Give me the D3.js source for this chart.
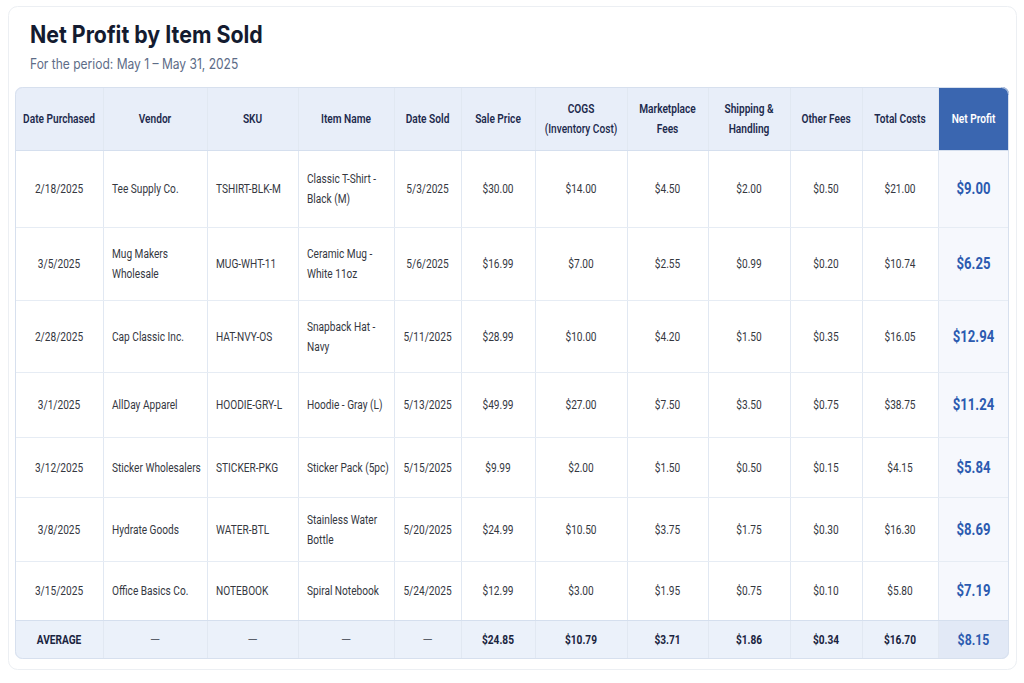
<!DOCTYPE html>
<html>
<head>
<meta charset="utf-8">
<script src="https://cdn.jsdelivr.net/npm/d3@7"></script>
<style>
  html, body { margin: 0; padding: 0; background: #ffffff; }
  svg { display: block; }
</style>
</head>
<body>
<div id="chart"></div>
<script>
// data
const headers = [
    ['Date Purchased'], ['Vendor'], ['SKU'], ['Item Name'], ['Date Sold'], ['Sale Price'],
    ['COGS', '(Inventory Cost)'], ['Marketplace', 'Fees'], ['Shipping &', 'Handling'],
    ['Other Fees'], ['Total Costs'], ['Net Profit']
];
const datePurchased = ['2/18/2025', '3/5/2025', '2/28/2025', '3/1/2025', '3/12/2025', '3/8/2025', '3/15/2025'];
const vendors = ['Tee Supply Co.', 'Mug Makers Wholesale', 'Cap Classic Inc.', 'AllDay Apparel', 'Sticker Wholesalers', 'Hydrate Goods', 'Office Basics Co.'];
const skus = ['TSHIRT-BLK-M', 'MUG-WHT-11', 'HAT-NVY-OS', 'HOODIE-GRY-L', 'STICKER-PKG', 'WATER-BTL', 'NOTEBOOK'];
const itemNames = ['Classic T-Shirt - Black (M)', 'Ceramic Mug - White 11oz', 'Snapback Hat - Navy', 'Hoodie - Gray (L)', 'Sticker Pack (5pc)', 'Stainless Water Bottle', 'Spiral Notebook'];
const dateSold = ['5/3/2025', '5/6/2025', '5/11/2025', '5/13/2025', '5/15/2025', '5/20/2025', '5/24/2025'];
const salePrice = [30.00, 16.99, 28.99, 49.99, 9.99, 24.99, 12.99];
const cogs = [14.00, 7.00, 10.00, 27.00, 2.00, 10.50, 3.00];
const marketplaceFees = [4.50, 2.55, 4.20, 7.50, 1.50, 3.75, 1.95];
const shipping = [2.00, 0.99, 1.50, 3.50, 0.50, 1.75, 0.75];
const otherFees = [0.50, 0.20, 0.35, 0.75, 0.15, 0.30, 0.10];
const totalCosts = [21.00, 10.74, 16.05, 38.75, 4.15, 16.30, 5.80];
const netProfit = [9.00, 6.25, 12.94, 11.24, 5.84, 8.69, 7.19];
// the average row as printed in the picture
const averages = [24.85, 10.79, 3.71, 1.86, 0.34, 16.70, 8.15];

// layout
const width = 1024, height = 683;
const tableX = 15, tableY = 87;
const colWidths = [88, 104, 91, 96, 67, 74, 92, 81, 82, 72, 76, 71];
const rowHeights = [63, 77, 73, 72, 65, 60, 64, 59, 39];
const leftCols = [1, 2, 3];          // vendor, sku, item name are left aligned
const wrapWidth = { 1: 90, 3: 88 };
const font = 'Roboto, "Noto Sans", sans-serif';
const squeeze = 0.78;                // the reference uses a condensed face
const money = d => `$${d.toFixed(2)}`;

const colIdx = d3.range(colWidths.length);
const rowIdx = d3.range(rowHeights.length);
const x = d3.scaleOrdinal().domain(colIdx).range(colIdx.map(i => tableX + d3.sum(colWidths.slice(0, i))));
const y = d3.scaleOrdinal().domain(rowIdx).range(rowIdx.map(i => tableY + d3.sum(rowHeights.slice(0, i))));
const tableW = d3.sum(colWidths), tableH = d3.sum(rowHeights);

// build rows of cell text
const bodyRows = datePurchased.map((d, i) => [
    d, vendors[i], skus[i], itemNames[i], dateSold[i],
    money(salePrice[i]), money(cogs[i]), money(marketplaceFees[i]), money(shipping[i]),
    money(otherFees[i]), money(totalCosts[i]), money(netProfit[i])
]);
const avgRow = ['AVERAGE', '—', '—', '—', '—'].concat(averages.map(money));

const svg = d3.select('#chart').append('svg')
    .attr('width', width)
    .attr('height', height);

// card
svg.append('rect')
    .attr('x', 8.5).attr('y', 6.5)
    .attr('width', 1008).attr('height', 663)
    .attr('rx', 9)
    .attr('fill', '#ffffff')
    .attr('stroke', '#eceff3');

// text helper: a squeezed block of lines centred on cy
function addText(parent, tx, cy, lines, o) {
    const g = parent.append('g')
        .attr('transform', `translate(${tx},${cy}) scale(${o.scale || squeeze},1)`);
    const t = g.append('text')
        .attr('text-anchor', o.anchor || 'middle')
        .style('font-family', o.family || font)
        .style('font-size', o.size + 'px')
        .style('font-weight', o.weight || 400)
        .attr('fill', o.fill);
    lines.forEach((line, k) => {
        t.append('tspan')
            .attr('x', 0)
            .attr('y', (k - (lines.length - 1) / 2) * 20 + o.size * 0.36)
            .style('font-weight', o.weights ? o.weights[k] : null)
            .text(line);
    });
    return t;
}

addText(svg, 30, 34, ['Net Profit by Item Sold'], {
    anchor: 'start', family: 'Inter, "Open Sans", sans-serif', size: 24, weight: 700,
    fill: '#141b30', scale: 0.89
});
addText(svg, 30, 64, ['For the period: May 1 \u2013 May 31, 2025'], {
    anchor: 'start', family: 'Inter, "Open Sans", sans-serif', size: 14, weight: 400,
    fill: '#5d6c87', scale: 0.86
});

svg.append('clipPath').attr('id', 'table-clip')
    .append('rect')
    .attr('x', tableX).attr('y', tableY)
    .attr('width', tableW).attr('height', tableH)
    .attr('rx', 7);

const table = svg.append('g').attr('clip-path', 'url(#table-clip)');

// backgrounds
const last = colWidths.length - 1;
const avgR = rowHeights.length - 1;
const cellFill = (r, c) => {
    if (r === 0) return c === last ? '#3a66b0' : '#e8eef9';
    if (r === avgR) return c === last ? '#e2e9f6' : '#ebf1fa';
    return c === last ? '#f6f8fd' : '#ffffff';
};

const cells = [];
rowIdx.forEach(r => colIdx.forEach(c => cells.push({ r, c })));

table.selectAll('.cell')
    .data(cells)
    .enter()
    .append('rect')
    .attr('class', 'cell')
    .attr('x', d => x(d.c))
    .attr('y', d => y(d.r))
    .attr('width', d => colWidths[d.c])
    .attr('height', d => rowHeights[d.r])
    .attr('fill', d => cellFill(d.r, d.c));

// grid lines
table.selectAll('.vline')
    .data(colIdx.slice(1))
    .enter()
    .append('line')
    .attr('x1', d => x(d) + 0.5).attr('x2', d => x(d) + 0.5)
    .attr('y1', tableY).attr('y2', tableY + tableH)
    .attr('stroke', '#e1e8f2');

table.selectAll('.hline')
    .data(rowIdx.slice(1))
    .enter()
    .append('line')
    .attr('x1', tableX).attr('x2', tableX + tableW)
    .attr('y1', d => y(d) + 0.5).attr('y2', d => y(d) + 0.5)
    .attr('stroke', d => d === 1 || d === avgR ? '#d5dfee' : '#e6ecf4');

svg.append('rect')
    .attr('x', tableX + 0.5).attr('y', tableY + 0.5)
    .attr('width', tableW - 1).attr('height', tableH - 1)
    .attr('rx', 7)
    .attr('fill', 'none')
    .attr('stroke', '#d7e0ee');

// header text
const head = svg.append('g');
headers.forEach((lines, c) => {
    addText(head, x(c) + colWidths[c] / 2, y(0) + rowHeights[0] / 2, lines, {
        size: 13, weight: 600, fill: c === last ? '#ffffff' : '#1d2a4d',
        weights: c === 6 ? [600, 500] : null
    });
});

// wrap a string to lines using measured (squeezed) widths
const probe = svg.append('text')
    .style('font-family', font)
    .style('font-size', '13px')
    .attr('visibility', 'hidden');

function wrapLines(str, maxW) {
    const words = str.split(' ');
    const lines = [];
    let cur = '';
    words.forEach(w => {
        const test = cur ? cur + ' ' + w : w;
        probe.text(test);
        if (probe.node().getComputedTextLength() * squeeze > maxW && cur) {
            lines.push(cur);
            cur = w;
        } else {
            cur = test;
        }
    });
    lines.push(cur);
    return lines;
}

const body = svg.append('g');
bodyRows.concat([avgRow]).forEach((row, i) => {
    const r = i + 1;
    const isAvg = r === avgR;
    const cy = y(r) + rowHeights[r] / 2;
    row.forEach((val, c) => {
        const isNet = c === last;
        const isDash = val === '—';
        const left = leftCols.includes(c) && !isAvg;
        const lines = wrapWidth[c] && !isAvg ? wrapLines(val, wrapWidth[c]) : [val];
        addText(body, left ? x(c) + 9 : x(c) + colWidths[c] / 2, cy, lines, {
            anchor: left ? 'start' : 'middle',
            size: isNet ? (isAvg ? 15 : 16) : 13,
            weight: isNet ? 700 : (isAvg && !isDash ? 700 : 400),
            fill: isNet ? '#2c5bb0' : (isDash ? '#5a5f6a' : (isAvg ? '#1a2440' : '#35383f')),
            scale: isNet ? 0.82 : (isDash ? 1 : squeeze)
        });
    });
});
probe.remove();
</script>
</body>
</html>
